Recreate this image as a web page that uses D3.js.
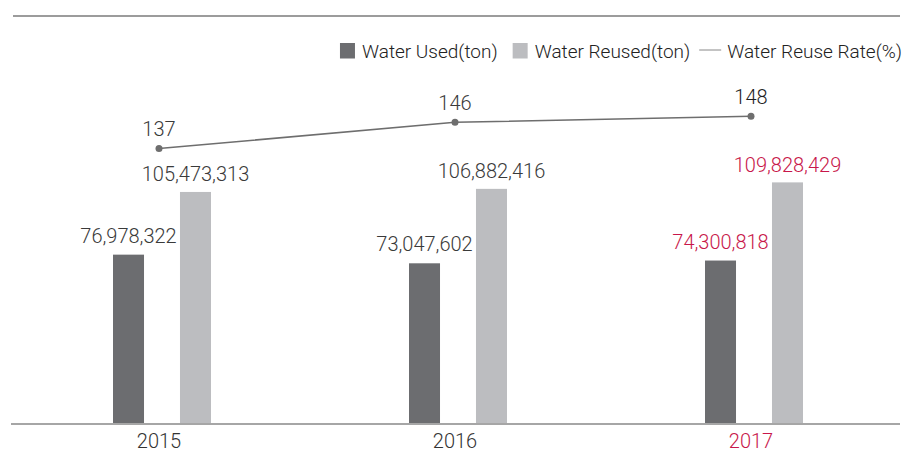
<!DOCTYPE html>
<html><head><meta charset="utf-8">
<script src="https://cdn.jsdelivr.net/npm/d3@7"></script>
<style>
html,body{margin:0;padding:0;background:#fff;}
svg{display:block;font-family:Roboto,"Noto Sans",sans-serif;}
</style></head>
<body><svg id="c" width="911" height="452"></svg>
<script>
const years = ["2015", "2016", "2017"];
const waterUsed = [76978322, 73047602, 74300818];
const waterReused = [105473313, 106882416, 109828429];
const reuseRate = [137, 146, 148];
const seriesNames = ["Water Used(ton)", "Water Reused(ton)", "Water Reuse Rate(%)"];

const svg = d3.select("#c");
const red = "#c8174a";
const darkBar = "#6c6d70", lightBar = "#bcbdc0";
const fmt = d3.format(",");

const x0 = d3.scaleBand().domain(years).range([11, 899]).padding(0);
const x1 = d3.scaleBand().domain(["used", "reused"]).range([102, 200]).paddingInner(0.537);
const y = d3.scaleLinear().domain([0, 185e6]).range([424, 17]);
const y2 = d3.scaleLinear().domain([130, 150]).range([169.1, 110.5]);

// top rule
svg.append("line").attr("x1", 13).attr("x2", 900).attr("y1", 16).attr("y2", 16)
  .attr("stroke", "#9c9c9c").attr("stroke-width", 2);

const data = years.map((yr, i) => ({yr, i, used: waterUsed[i], reused: waterReused[i], rate: reuseRate[i]}));

const g = svg.append("g");
data.forEach(d => {
  const isLast = d.i === years.length - 1;
  [["used", darkBar], ["reused", lightBar]].forEach(([k, col]) => {
    const bx = x0(d.yr) + x1(k);
    g.append("rect").attr("x", bx).attr("width", x1.bandwidth())
      .attr("y", y(d[k])).attr("height", y(0) - y(d[k])).attr("fill", col);
    g.append("text").attr("x", bx + x1.bandwidth() / 2).attr("y", y(d[k]) - (k === "used" ? 12 : 10.5))
      .attr("text-anchor", "middle").attr("font-size", 20).attr("font-weight", 300)
      .attr("fill", isLast ? red : "#3a3a3a").text(fmt(d[k]));
  });
});

// baseline
svg.append("line").attr("x1", 11).attr("x2", 900).attr("y1", y(0)).attr("y2", y(0))
  .attr("stroke", "#a6a6a6").attr("stroke-width", 2);

// year labels
svg.selectAll(".yr").data(data).enter().append("text")
  .attr("x", d => x0(d.yr) + x0.bandwidth() / 2).attr("y", 447.5)
  .attr("text-anchor", "middle").attr("font-size", 20).attr("font-weight", 300)
  .attr("fill", d => d.i === years.length - 1 ? red : "#333").text(d => d.yr);

// rate line
const cx = d => x0(d.yr) + x0.bandwidth() / 2;
svg.append("path").datum(data)
  .attr("d", d3.line().x(cx).y(d => y2(d.rate)))
  .attr("fill", "none").attr("stroke", "#6e6e6e").attr("stroke-width", 1.5);
svg.selectAll(".dot").data(data).enter().append("circle")
  .attr("cx", cx).attr("cy", d => y2(d.rate)).attr("r", 3.5).attr("fill", "#6e6e6e");
svg.selectAll(".rl").data(data).enter().append("text")
  .attr("x", cx).attr("y", d => y2(d.rate) - 12.5)
  .attr("text-anchor", "middle").attr("font-size", 20)
  .attr("fill", d => d.i === years.length - 1 ? "#1e1e1e" : "#3a3a3a")
  .attr("font-weight", 300)
  .text(d => d.rate);

// legend (right-aligned)
const lg = svg.append("g").attr("font-size", 19).attr("font-weight", 300).attr("fill", "#222");
let lx = 0;
const ly = 57.5;
seriesNames.forEach((name, i) => {
  if (i < 2) {
    lg.append("rect").attr("x", lx).attr("y", 43).attr("width", 15).attr("height", 15.5)
      .attr("fill", i === 0 ? darkBar : lightBar);
    lx += 22;
  } else {
    lg.append("line").attr("x1", lx).attr("x2", lx + 22).attr("y1", 50).attr("y2", 50)
      .attr("stroke", "#888").attr("stroke-width", 1);
    lx += 28;
  }
  const t = lg.append("text").attr("x", lx).attr("y", ly).text(name);
  lx += t.node().getComputedTextLength() + (i === 0 ? 15 : 9);
});
const legendWidth = lx - 9;
lg.attr("transform", `translate(${902 - legendWidth},0)`);
</script></body></html>
